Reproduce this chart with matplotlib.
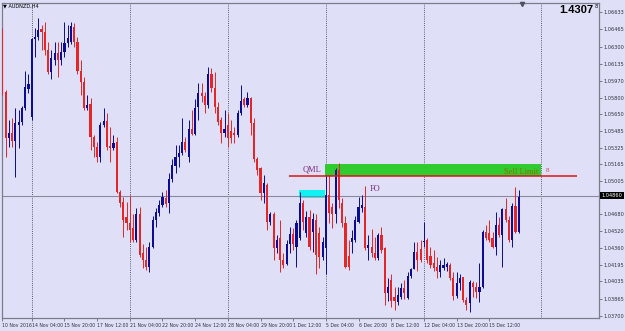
import matplotlib
matplotlib.use("Agg")
import matplotlib.pyplot as plt
from matplotlib.patches import Rectangle
import matplotlib.transforms as mtransforms

# AUDNZD H4 candles
opens = [1.0646, 1.0586, 1.0542, 1.0547, 1.0539, 1.0554, 1.0557, 1.0571, 1.0589, 1.0562,
         1.0637, 1.0639, 1.0647, 1.0644, 1.0627, 1.0605, 1.0617, 1.0624, 1.0617, 1.0625,
         1.0633, 1.0634, 1.0649, 1.0634, 1.0606, 1.0596, 1.0571, 1.0575, 1.0543, 1.0533,
         1.0523, 1.0554, 1.0558, 1.0534, 1.0532, 1.0538, 1.0490, 1.0480, 1.0465, 1.0460,
         1.0455, 1.0443, 1.0468, 1.0431, 1.0424, 1.0417, 1.0437, 1.0463, 1.0469, 1.0477,
         1.0484, 1.0479, 1.0502, 1.0515, 1.0523, 1.0527, 1.0538, 1.0523, 1.0550, 1.0546,
         1.0572, 1.0585, 1.0582, 1.0574, 1.0603, 1.0590, 1.0572, 1.0559, 1.0547, 1.0554,
         1.0548, 1.0547, 1.0545, 1.0566, 1.0579, 1.0574, 1.0580, 1.0556, 1.0521, 1.0513,
         1.0489, 1.0496, 1.0461, 1.0468, 1.0436, 1.0445, 1.0424, 1.0420, 1.0439, 1.0449,
         1.0437, 1.0445, 1.0479, 1.0450, 1.0465, 1.0451, 1.0463, 1.0450, 1.0427, 1.0436,
         1.0487, 1.0475, 1.0468, 1.0511, 1.0479, 1.0460, 1.0428, 1.0441, 1.0443, 1.0461,
         1.0474, 1.0475, 1.0436, 1.0437, 1.0431, 1.0426, 1.0448, 1.0436, 1.0392, 1.0405,
         1.0388, 1.0383, 1.0388, 1.0397, 1.0387, 1.0409, 1.0415, 1.0432, 1.0435, 1.0441,
         1.0443, 1.0428, 1.0421, 1.0417, 1.0412, 1.0416, 1.0417, 1.0419, 1.0407, 1.0389,
         1.0402, 1.0408, 1.0385, 1.0382, 1.0402, 1.0398, 1.0393, 1.0398, 1.0451, 1.0450,
         1.0445, 1.0437, 1.0458, 1.0448, 1.0473, 1.0463, 1.0443, 1.0476, 1.0451]
highs = [1.0648, 1.0588, 1.0559, 1.0561, 1.0571, 1.0569, 1.0573, 1.0606, 1.0603, 1.0638,
         1.0648, 1.0658, 1.0651, 1.0654, 1.0634, 1.0627, 1.0634, 1.0634, 1.0634, 1.0654,
         1.0651, 1.0654, 1.0653, 1.0639, 1.0617, 1.0601, 1.0583, 1.0580, 1.0545, 1.0538,
         1.0557, 1.0571, 1.0566, 1.0552, 1.0545, 1.0543, 1.0492, 1.0485, 1.0480, 1.0487,
         1.0468, 1.0474, 1.0475, 1.0439, 1.0437, 1.0441, 1.0466, 1.0474, 1.0482, 1.0490,
         1.0492, 1.0508, 1.0521, 1.0535, 1.0535, 1.0561, 1.0543, 1.0559, 1.0569, 1.0579,
         1.0595, 1.0595, 1.0586, 1.0610, 1.0609, 1.0605, 1.0576, 1.0562, 1.0569, 1.0566,
         1.0559, 1.0552, 1.0569, 1.0593, 1.0581, 1.0586, 1.0581, 1.0561, 1.0523, 1.0514,
         1.0506, 1.0498, 1.0470, 1.0470, 1.0448, 1.0463, 1.0431, 1.0443, 1.0456, 1.0455,
         1.0463, 1.0490, 1.0482, 1.0471, 1.0472, 1.0469, 1.0468, 1.0456, 1.0446, 1.0506,
         1.0506, 1.0479, 1.0513, 1.0518, 1.0484, 1.0466, 1.0443, 1.0453, 1.0466, 1.0485,
         1.0487, 1.0495, 1.0448, 1.0454, 1.0446, 1.0450, 1.0456, 1.0437, 1.0407, 1.0410,
         1.0398, 1.0398, 1.0402, 1.0405, 1.0412, 1.0416, 1.0441, 1.0441, 1.0443, 1.0461,
         1.0445, 1.0437, 1.0434, 1.0427, 1.0424, 1.0426, 1.0422, 1.0421, 1.0412, 1.0412,
         1.0410, 1.0408, 1.0388, 1.0405, 1.0404, 1.0403, 1.0421, 1.0453, 1.0458, 1.0463,
         1.0451, 1.0470, 1.0465, 1.0474, 1.0484, 1.0466, 1.0479, 1.0494, 1.0492]
lows = [1.0583, 1.0523, 1.0533, 1.0533, 1.0504, 1.0532, 1.0554, 1.0569, 1.0585, 1.0559,
        1.0620, 1.0636, 1.0627, 1.0622, 1.0603, 1.0599, 1.0612, 1.0601, 1.0612, 1.0620,
        1.0630, 1.0632, 1.0630, 1.0603, 1.0583, 1.0569, 1.0569, 1.0530, 1.0523, 1.0519,
        1.0519, 1.0552, 1.0530, 1.0519, 1.0530, 1.0489, 1.0475, 1.0446, 1.0453, 1.0441,
        1.0441, 1.0441, 1.0427, 1.0416, 1.0414, 1.0412, 1.0436, 1.0456, 1.0466, 1.0475,
        1.0475, 1.0469, 1.0499, 1.0508, 1.0514, 1.0525, 1.0528, 1.0519, 1.0545, 1.0545,
        1.0559, 1.0576, 1.0566, 1.0571, 1.0586, 1.0566, 1.0554, 1.0537, 1.0543, 1.0533,
        1.0537, 1.0537, 1.0543, 1.0564, 1.0572, 1.0572, 1.0545, 1.0519, 1.0506, 1.0482,
        1.0479, 1.0453, 1.0458, 1.0424, 1.0431, 1.0412, 1.0416, 1.0419, 1.0431, 1.0434,
        1.0417, 1.0443, 1.0453, 1.0446, 1.0434, 1.0432, 1.0410, 1.0416, 1.0424, 1.0410,
        1.0460, 1.0455, 1.0460, 1.0474, 1.0456, 1.0416, 1.0414, 1.0431, 1.0441, 1.0460,
        1.0470, 1.0434, 1.0424, 1.0427, 1.0424, 1.0424, 1.0431, 1.0381, 1.0384, 1.0379,
        1.0376, 1.0381, 1.0386, 1.0386, 1.0386, 1.0407, 1.0415, 1.0413, 1.0422, 1.0437,
        1.0421, 1.0416, 1.0413, 1.0407, 1.0408, 1.0414, 1.0413, 1.0405, 1.0385, 1.0387,
        1.0395, 1.0383, 1.0376, 1.0374, 1.0388, 1.0387, 1.0383, 1.0397, 1.0443, 1.0441,
        1.0436, 1.0429, 1.0446, 1.0417, 1.0461, 1.0441, 1.0437, 1.0450, 1.0450]
closes = [1.0585, 1.0542, 1.0547, 1.0539, 1.0556, 1.0557, 1.0571, 1.0591, 1.0594, 1.0637,
          1.0639, 1.0646, 1.0644, 1.0627, 1.0605, 1.0619, 1.0624, 1.0617, 1.0625, 1.0633,
          1.0638, 1.0650, 1.0634, 1.0606, 1.0596, 1.0571, 1.0574, 1.0543, 1.0533, 1.0523,
          1.0554, 1.0558, 1.0533, 1.0532, 1.0537, 1.0490, 1.0479, 1.0463, 1.0460, 1.0453,
          1.0443, 1.0468, 1.0429, 1.0424, 1.0417, 1.0437, 1.0463, 1.0470, 1.0477, 1.0485,
          1.0478, 1.0502, 1.0516, 1.0523, 1.0527, 1.0538, 1.0530, 1.0550, 1.0546, 1.0571,
          1.0585, 1.0582, 1.0574, 1.0603, 1.0590, 1.0572, 1.0557, 1.0547, 1.0550, 1.0542,
          1.0542, 1.0545, 1.0566, 1.0577, 1.0574, 1.0580, 1.0556, 1.0521, 1.0511, 1.0489,
          1.0498, 1.0461, 1.0468, 1.0436, 1.0443, 1.0424, 1.0419, 1.0439, 1.0449, 1.0439,
          1.0460, 1.0479, 1.0461, 1.0465, 1.0437, 1.0464, 1.0429, 1.0427, 1.0441, 1.0487,
          1.0469, 1.0468, 1.0511, 1.0482, 1.0460, 1.0417, 1.0417, 1.0445, 1.0463, 1.0475,
          1.0477, 1.0436, 1.0438, 1.0431, 1.0426, 1.0448, 1.0434, 1.0392, 1.0398, 1.0384,
          1.0384, 1.0390, 1.0397, 1.0392, 1.0409, 1.0415, 1.0432, 1.0424, 1.0424, 1.0442,
          1.0424, 1.0419, 1.0416, 1.0413, 1.0419, 1.0419, 1.0420, 1.0407, 1.0389, 1.0402,
          1.0407, 1.0385, 1.0381, 1.0403, 1.0398, 1.0393, 1.0398, 1.0451, 1.0445, 1.0443,
          1.0437, 1.0458, 1.0448, 1.0473, 1.0463, 1.0443, 1.0476, 1.0451, 1.0485]

date_bars = [0, 9, 19, 29, 39, 49, 59, 69, 79, 89, 99, 109, 119, 129, 139, 149]
date_labels = ["10 Nov 2016", "14 Nov 04:00", "15 Nov 20:00", "17 Nov 12:00",
               "21 Nov 04:00", "22 Nov 20:00", "24 Nov 12:00", "28 Nov 04:00",
               "29 Nov 20:00", "1 Dec 12:00", "5 Dec 04:00", "6 Dec 20:00",
               "8 Dec 12:00", "12 Dec 04:00", "13 Dec 20:00", "15 Dec 12:00"]
grid_bars = [9, 39, 69, 99, 129, 164.8]
price_ticks = [1.06633, 1.06465, 1.06300, 1.06135, 1.05970, 1.05800, 1.05650,
               1.05485, 1.05325, 1.05165, 1.05005, 1.04680, 1.04520, 1.04360,
               1.04195, 1.04035, 1.03865, 1.03700]
bid = 1.04860

# drawn objects on the chart
qml_level = 1.05051
sell_zone = (98.8, 164.8, 1.05051, 1.05166)
fo_zone = (90.8, 98.8, 1.04838, 1.04916)

BG = "#dfdff7"
BULL = "#0c0c94"
BEAR = "#e42626"

fig = plt.figure(figsize=(6.25, 3.31), dpi=100, facecolor=BG)
ax = fig.add_axes([2 / 625, 13 / 331, 597 / 625, 315 / 331])
ax.set_facecolor(BG)
ax.set_xlim(-0.1, 182.57)
ax.set_ylim(1.03680, 1.06720)

for s in ax.spines.values():
    s.set_color("#7c7c8c")
    s.set_linewidth(0.9)

# grid separators
for b in grid_bars:
    ax.axvline(b, color="#303040", lw=0.6, ls=(0, (1, 1.6)), zorder=1)

# zones
ax.add_patch(Rectangle((sell_zone[0], sell_zone[2]), sell_zone[1] - sell_zone[0],
                       sell_zone[3] - sell_zone[2], facecolor="#2fcb2f", edgecolor="none", zorder=2))
ax.add_patch(Rectangle((fo_zone[0], fo_zone[2]), fo_zone[1] - fo_zone[0],
                       fo_zone[3] - fo_zone[2], facecolor="#12f2f2", edgecolor="none", zorder=2))
ax.axhline(bid, color="#8a8a9c", lw=0.8, zorder=2)
ax.hlines(qml_level, 87.8, 175.8, color="#e01515", lw=1.1, zorder=5)

# candles
xs = list(range(len(opens)))
cols = [BULL if c >= o else BEAR for o, c in zip(opens, closes)]
ax.vlines(xs, lows, highs, colors=cols, lw=0.7, zorder=3)
bottoms = [min(o, c) for o, c in zip(opens, closes)]
heights = [max(abs(c - o), 0.00004) for o, c in zip(opens, closes)]
ax.bar(xs, heights, bottom=bottoms, width=0.66, color=cols, linewidth=0, zorder=4)

# labels of objects
serif = "Liberation Serif"
ax.text(92.0, 1.0511, "QML", fontsize=6, family=serif, color="#7b2d7b", va="center", zorder=6)
ax.text(112.5, 1.04925, "FO", fontsize=6, family=serif, color="#7b2d7b", va="center", zorder=6)
ax.text(163.9, 1.05089, "Sell Limit", fontsize=6, family=serif, color="#8c6f00",
        ha="right", va="center", zorder=6)
ax.text(166.4, 1.05099, "8", fontsize=5, family=serif, color="#c04848", va="center", zorder=6)

# axes ticks
ax.yaxis.tick_right()
ax.set_yticks(price_ticks)
ax.set_yticklabels(["%.5f" % p for p in price_ticks])
ax.tick_params(axis="y", length=2, width=0.5, color="#505060", pad=1,
               labelsize=3.6, labelcolor="#303040")
ax.set_xticks(date_bars)
ax.set_xticklabels(date_labels, ha="left")
ax.tick_params(axis="x", length=2, width=0.5, color="#505060", pad=1.5,
               labelsize=3.3, labelcolor="#303040")

# bid price box
trans = mtransforms.blended_transform_factory(ax.transAxes, ax.transData)
ax.text(1.004, bid, "%.5f" % bid, transform=trans, fontsize=3.6, color="white",
        va="center", ha="left", clip_on=False,
        bbox=dict(boxstyle="square,pad=0.25", facecolor="black", edgecolor="none"))

# chart shift marker
ax.plot([159], [1.0671], marker="v", color="#505060", ms=3, clip_on=False, zorder=7)

# header texts
fig.text(3 / 625, 1 - 6 / 331, "\u25bc AUDNZD,H4", fontsize=3.6, color="black", va="center")
fig.text(593 / 625, 1 - 10 / 331, "1.4307", fontsize=8, weight="bold",
         family="Liberation Sans", color="black", ha="right", va="center")
fig.text(595 / 625, 1 - 6 / 331, "8", fontsize=3.5, color="black", va="center")

fig.savefig("out.png", dpi=100, facecolor=BG)
